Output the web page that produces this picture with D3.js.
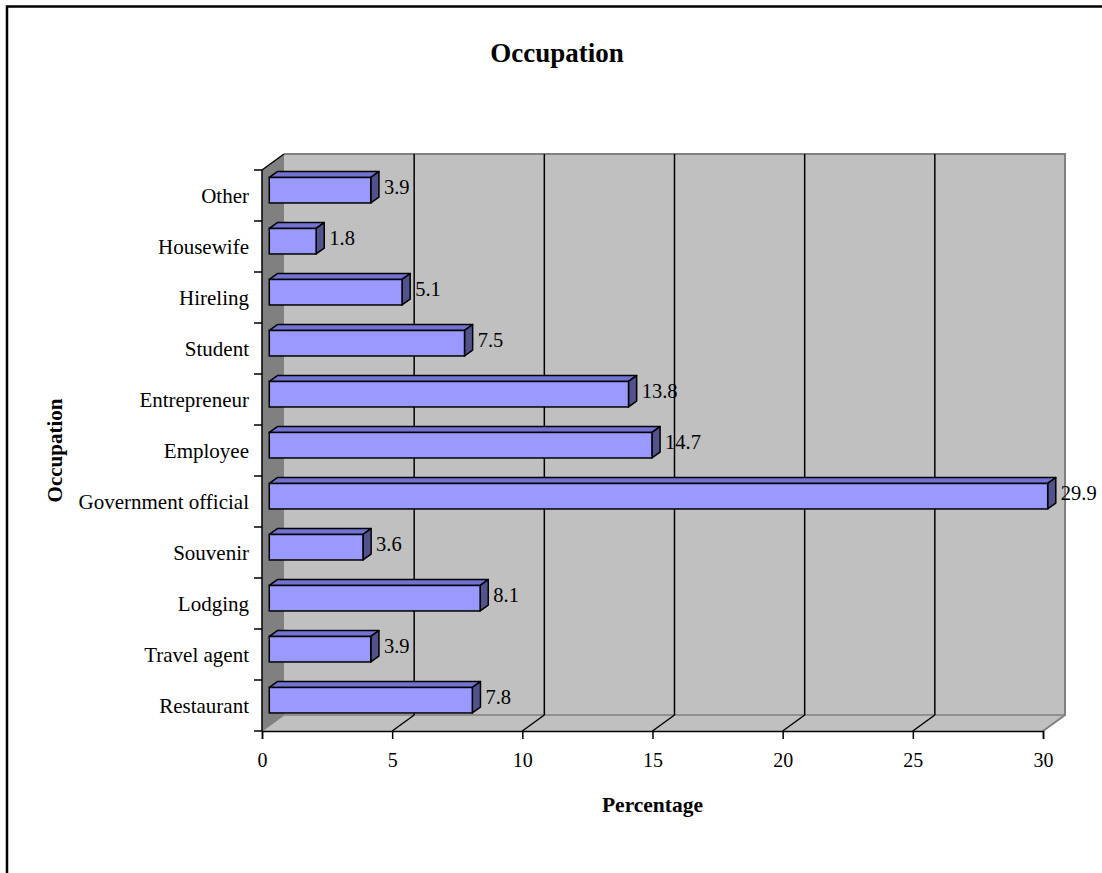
<!DOCTYPE html>
<html>
<head>
<meta charset="utf-8">
<script src="https://cdn.jsdelivr.net/npm/d3@7"></script>
<style>
  html, body { margin: 0; padding: 0; background: #fff; }
  svg { display: block; }
  text { font-family: "Liberation Serif", "Times New Roman", serif; fill: #000; }
</style>
</head>
<body>
<svg id="chart" width="1102" height="873"></svg>
<script>
// Occupation shares (%), listed bottom to top as on the axis
const categories = ["Restaurant", "Travel agent", "Lodging", "Souvenir", "Government official",
  "Employee", "Entrepreneur", "Student", "Hireling", "Housewife", "Other"];
const values = [7.8, 3.9, 8.1, 3.6, 29.9, 14.7, 13.8, 7.5, 5.1, 1.8, 3.9];
const xTicks = [0, 5, 10, 15, 20, 25, 30];

const svg = d3.select("#chart");

// outer chart frame
svg.append("rect")
  .attr("x", 7).attr("y", 6.5).attr("width", 1110).attr("height", 880)
  .attr("fill", "none").attr("stroke", "#000").attr("stroke-width", 2.5);

// front-plane scales
const x = d3.scaleLinear().domain([0, 30]).range([262, 1043]);
const y = d3.scaleBand().domain(categories.slice().reverse()).range([170, 731]).padding(0);

// depth vector of the floor (front -> back wall)
const depth = { dx: 22, dy: -16 };
const y0 = 731, yTop = 170;
const [xL, xR] = x.range();

const g = svg.append("g");

// back wall
g.append("rect")
  .attr("x", xL + depth.dx).attr("y", yTop + depth.dy)
  .attr("width", xR - xL).attr("height", y0 - yTop)
  .attr("fill", "#c0c0c0");

// left side wall
g.append("polygon")
  .attr("points", [[xL, yTop], [xL + depth.dx, yTop + depth.dy], [xL + depth.dx, y0 + depth.dy], [xL, y0]].join(" "))
  .attr("fill", "#808080");

// floor
g.append("polygon")
  .attr("points", [[xL, y0], [xR, y0], [xR + depth.dx, y0 + depth.dy], [xL + depth.dx, y0 + depth.dy]].join(" "))
  .attr("fill", "#c0c0c0");

// back-wall frame edges
g.append("polyline")
  .attr("points", [[xL + depth.dx, yTop + depth.dy], [xR + depth.dx, yTop + depth.dy], [xR + depth.dx, y0 + depth.dy], [xR, y0]].join(" "))
  .attr("fill", "none").attr("stroke", "#808080").attr("stroke-width", 2);
g.append("line")
  .attr("x1", xL + depth.dx).attr("x2", xR + depth.dx)
  .attr("y1", y0 + depth.dy).attr("y2", y0 + depth.dy)
  .attr("stroke", "#808080").attr("stroke-width", 1.5);
g.append("line")
  .attr("x1", xL).attr("y1", y0).attr("x2", xL + depth.dx).attr("y2", y0 + depth.dy)
  .attr("stroke", "#808080").attr("stroke-width", 1.2);
g.append("line")
  .attr("x1", xL).attr("y1", yTop).attr("x2", xL + depth.dx).attr("y2", yTop + depth.dy)
  .attr("stroke", "#000").attr("stroke-width", 1.5);

// gridlines: vertical on back wall plus diagonals across the floor
const inner = xTicks.filter(t => t > 0 && t < 30);
g.selectAll("line.grid").data(inner).join("line")
  .attr("class", "grid")
  .attr("x1", d => x(d) + depth.dx).attr("x2", d => x(d) + depth.dx)
  .attr("y1", yTop + depth.dy).attr("y2", y0 + depth.dy)
  .attr("stroke", "#000").attr("stroke-width", 1.5);
g.selectAll("line.floorgrid").data(inner).join("line")
  .attr("class", "floorgrid")
  .attr("x1", d => x(d)).attr("y1", y0)
  .attr("x2", d => x(d) + depth.dx).attr("y2", y0 + depth.dy)
  .attr("stroke", "#000").attr("stroke-width", 1.5);

// 3D bars
const f1 = 0.33, f2 = 0.7;
const front = { dx: depth.dx * f1, dy: depth.dy * f1 };
const back = { dx: depth.dx * (f2 - f1), dy: depth.dy * (f2 - f1) };
const barH = y.bandwidth() * 0.5;
const data = categories.map((c, i) => ({ c, v: values[i] }));

const bars = g.selectAll("g.bar").data(data).join("g").attr("class", "bar");
bars.each(function (d) {
  const sel = d3.select(this);
  const x0 = x(0) + front.dx, x1 = x(d.v) + front.dx;
  const yt = y(d.c) + y.bandwidth() / 2 - barH / 2 + front.dy;
  const yb = yt + barH;
  // top face
  sel.append("polygon")
    .attr("points", [[x0, yt], [x1, yt], [x1 + back.dx, yt + back.dy], [x0 + back.dx, yt + back.dy]].join(" "))
    .attr("fill", "#7272d2").attr("stroke", "#000").attr("stroke-width", 1.5).attr("stroke-linejoin", "round");
  // side face
  sel.append("polygon")
    .attr("points", [[x1, yt], [x1 + back.dx, yt + back.dy], [x1 + back.dx, yb + back.dy], [x1, yb]].join(" "))
    .attr("fill", "#52528c").attr("stroke", "#000").attr("stroke-width", 1.5).attr("stroke-linejoin", "round");
  // front face
  sel.append("rect")
    .attr("x", x0).attr("y", yt).attr("width", x1 - x0).attr("height", barH)
    .attr("fill", "#9999ff").attr("stroke", "#000").attr("stroke-width", 1.5);
  // value label
  sel.append("text")
    .attr("x", x1 + back.dx + 5).attr("y", yt + barH / 2 + 3.5)
    .attr("font-size", 20.5)
    .text(d.v.toFixed(1));
});

// left (category) axis
const yAxisG = svg.append("g").attr("transform", `translate(${xL},0)`);
yAxisG.append("line").attr("x1", 0).attr("x2", 0).attr("y1", yTop).attr("y2", y0)
  .attr("stroke", "#000").attr("stroke-width", 1.5);
const bounds = categories.map(c => y(c)).concat([y0]);
yAxisG.selectAll("line.tick").data(bounds).join("line")
  .attr("class", "tick")
  .attr("x1", -8).attr("x2", 0).attr("y1", d => d).attr("y2", d => d)
  .attr("stroke", "#000").attr("stroke-width", 1.5);
yAxisG.selectAll("text.cat").data(categories).join("text")
  .attr("class", "cat")
  .attr("x", -13).attr("y", d => y(d) + y.bandwidth() / 2)
  .attr("dy", "0.34em").attr("text-anchor", "end")
  .attr("font-size", 21)
  .text(d => d);

// bottom (value) axis
const xAxis = d3.axisBottom(x).tickValues(xTicks).tickSize(8).tickPadding(14).tickFormat(d3.format("d"));
const xAxisG = svg.append("g").attr("transform", `translate(0,${y0})`).call(xAxis);
xAxisG.select(".domain").attr("stroke", "#000").attr("stroke-width", 1.5);
xAxisG.selectAll(".tick line").attr("stroke", "#000").attr("stroke-width", 1.5);
xAxisG.selectAll(".tick text").attr("font-size", 20)
  .attr("font-family", "'Liberation Serif', 'Times New Roman', serif").attr("fill", "#000");

// titles
svg.append("text")
  .attr("x", 557).attr("y", 62).attr("text-anchor", "middle")
  .attr("font-size", 27).attr("font-weight", "bold")
  .text("Occupation");
svg.append("text")
  .attr("x", (xL + xR) / 2).attr("y", 812).attr("text-anchor", "middle")
  .attr("font-size", 21.5).attr("font-weight", "bold")
  .text("Percentage");
svg.append("text")
  .attr("transform", `translate(62,${(yTop + y0) / 2}) rotate(-90)`)
  .attr("text-anchor", "middle")
  .attr("font-size", 21).attr("font-weight", "bold")
  .text("Occupation");
</script>
</body>
</html>
